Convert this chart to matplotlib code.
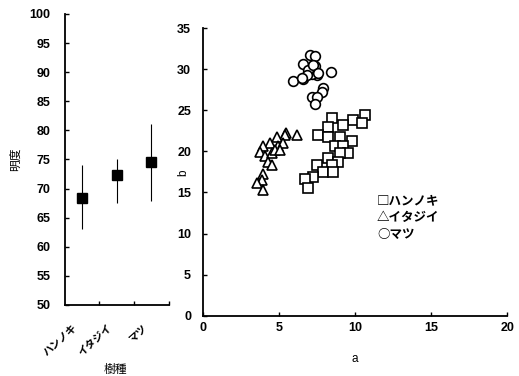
import numpy as np
from matplotlib import pyplot as plt
from matplotlib.transforms import offset_copy

plt.rcParams['font.family'] = ['Liberation Sans', 'Noto Sans CJK JP']
plt.rcParams['font.weight'] = 'bold'

# Left panel: brightness by tree species
species = ['ハンノキ', 'イタジイ', 'マツ']
bright_mean = [68.3, 72.3, 74.6]
bright_low = [63.0, 67.5, 67.9]
bright_high = [74.1, 75.1, 81.1]

# Right panel: a-b scatter
alder_a = [10.66, 9.89, 10.44, 9.23, 8.47, 8.24, 7.59, 8.24, 9.01, 9.78, 8.68, 9.23,
           9.56, 9.01, 8.24, 8.90, 7.48, 8.47, 7.91, 8.57, 7.26, 6.71, 6.93]
alder_b = [24.4, 23.8, 23.4, 23.2, 24.1, 23.0, 22.0, 21.8, 21.8, 21.2, 20.6, 20.6,
           19.85, 19.8, 19.2, 18.75, 18.35, 18.35, 17.5, 17.5, 16.9, 16.6, 15.6]
shii_a = [6.16, 5.46, 5.39, 4.85, 4.40, 3.97, 3.75, 4.08, 4.52, 4.30, 4.52, 3.97,
          3.86, 3.53, 3.97, 4.96, 4.74, 5.28, 5.07]
shii_b = [22.0, 22.2, 22.0, 21.7, 21.0, 20.6, 19.96, 19.4, 19.8, 18.75, 18.35, 17.2,
          16.5, 16.1, 15.3, 20.6, 20.2, 21.0, 20.2]
pine_a = [5.94, 6.60, 6.56, 7.04, 7.37, 7.37, 7.48, 8.40, 7.91, 7.80, 7.15, 7.48,
          7.37, 7.15, 6.93, 6.82, 7.24, 7.57, 6.50]
pine_b = [28.55, 28.8, 30.6, 31.7, 31.6, 30.4, 29.3, 29.6, 27.7, 27.25, 26.65, 26.6,
          25.8, 29.4, 29.9, 29.3, 30.5, 29.5, 28.9]
legend_lines = ['□ハンノキ', '△イタジイ', '○マツ']

fig = plt.figure(figsize=[5.19, 3.76], dpi=100)
ax1 = fig.add_axes([0.125, 0.189, 0.2, 0.774])
ax2 = fig.add_axes([0.391, 0.160, 0.586, 0.7655])

# Left panel
x = np.arange(len(species)) + 0.5
mean = np.array(bright_mean)
err = [mean - np.array(bright_low), np.array(bright_high) - mean]
ax1.errorbar(x, mean, yerr=err, fmt='s', color='black', markersize=7.5,
             elinewidth=0.8, capsize=0)
ax1.set_xlim(0, 3)
ax1.set_ylim(50, 100)
ax1.set_yticks(np.arange(50, 101, 5))
ax1.set_xticks([1, 2, 3])
ax1.set_xticklabels([])

# rotated category names, ends slightly left of each category
lab_tr = offset_copy(ax1.get_xaxis_transform(), fig=fig, x=-3, y=-18, units='dots')
for xi, name in zip(x, species):
    ax1.text(xi, 0, name, transform=lab_tr, rotation=42, ha='right', va='top',
             fontsize=7.5, family='Noto Sans CJK JP', fontweight='bold')

ax1.set_xlabel('樹種', fontsize=8.5, family='Noto Sans CJK JP')
ax1.set_ylabel('明度', fontsize=8.5, family='Noto Sans CJK JP')
ax1.xaxis.set_label_coords(0.49, -0.199)
ax1.yaxis.set_label_coords(-0.413, 0.5)

# Right panel
mk = dict(linestyle='none', markerfacecolor='white', markeredgecolor='black',
          markersize=7, markeredgewidth=1.2)
ax2.plot(alder_a, alder_b, marker='s', **mk)
ax2.plot(shii_a, shii_b, marker='^', **mk)
ax2.plot(pine_a, pine_b, marker='o', **mk)
ax2.set_xlim(0, 20)
ax2.set_ylim(0, 35)
ax2.set_xticks(np.arange(0, 21, 5))
ax2.set_yticks(np.arange(0, 36, 5))
ax2.set_xlabel('a', fontsize=8.5)
ax2.set_ylabel('b', fontsize=8.5)
ax2.xaxis.set_label_coords(0.498, -0.128)
ax2.yaxis.set_label_coords(-0.046, 0.497)

for i, line in enumerate(legend_lines):
    ax2.text(11.45, 14.05 - 2.05 * i, line, fontsize=9, va='center',
             family='Noto Sans CJK JP', fontweight='bold')

for ax in (ax1, ax2):
    ax.spines['right'].set_visible(False)
    ax.spines['top'].set_visible(False)
    ax.spines['left'].set_linewidth(1.3)
    ax.spines['bottom'].set_linewidth(1.3)
    ax.tick_params(which='major', direction='in', length=3, width=1, labelsize=9)
    for lab in ax.get_xticklabels() + ax.get_yticklabels():
        lab.set_fontweight('bold')

ax1.tick_params(axis='y', pad=10.5)
ax2.tick_params(axis='y', pad=8.5)
ax2.tick_params(axis='x', pad=4.5)

plt.savefig('out.png', dpi=100)
